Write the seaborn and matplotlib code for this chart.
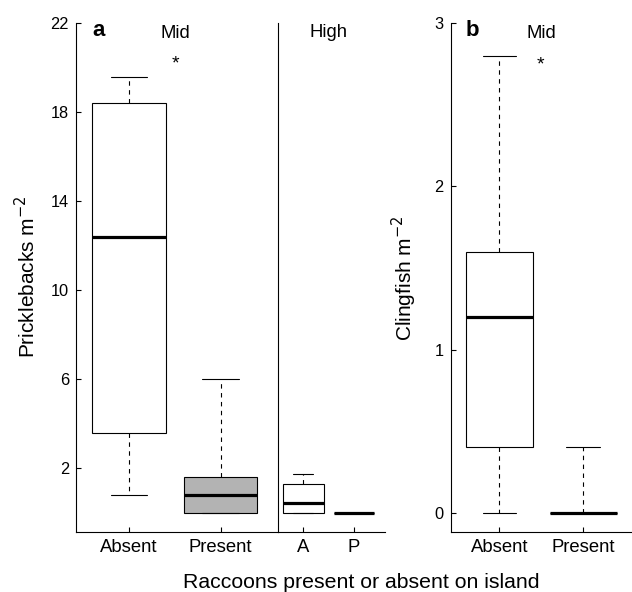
import numpy as np
import pandas as pd
import seaborn as sns
import matplotlib.pyplot as plt

# box summaries: min, lower quartile, median, upper quartile, max
mid_groups = ["Absent", "Present"]
high_groups = ["A", "P"]
prickle_mid_absent = [0.8, 3.6, 12.4, 18.4, 19.6]
prickle_mid_present = [0.0, 0.0, 0.8, 1.6, 6.0]
prickle_high_absent = [0.0, 0.0, 0.45, 1.3, 1.75]
prickle_high_present = [0.0, 0.0, 0.0, 0.0, 0.0]
cling_mid_absent = [0.0, 0.4, 1.2, 1.6, 2.8]
cling_mid_present = [0.0, 0.0, 0.0, 0.0, 0.4]
prickle_ticks = [2, 6, 10, 14, 18, 22]
cling_ticks = [0, 1, 2, 3]
box_colors = {"Absent": "white", "Present": "#b3b3b3", "A": "white", "P": "#b3b3b3"}


def frame(groups, values):
    return pd.DataFrame({"raccoons": np.repeat(groups, [len(v) for v in values]),
                         "density": np.concatenate(values)})


sns.set_style("ticks")
plt.rcParams["font.family"] = ["Liberation Sans", "DejaVu Sans"]
plt.rcParams["axes.linewidth"] = 0.8
for key in ("text.color", "axes.labelcolor", "axes.edgecolor", "xtick.color", "ytick.color"):
    plt.rcParams[key] = "black"

W, H = 632, 592
fig = plt.figure(figsize=(W / 100, H / 100), dpi=100)


def px_axes(x0, x1, y0, y1, **kw):
    return fig.add_axes([x0 / W, 1 - y1 / H, (x1 - x0) / W, (y1 - y0) / H], **kw)


ax_a1 = px_axes(76, 278.3, 3.8, 532.3)
ax_a2 = px_axes(278.3, 385, 3.8, 532.3, sharey=ax_a1)
ax_b = px_axes(450.7, 631, 3.7, 532.3)

box_kw = dict(x="raccoons", y="density", hue="raccoons", palette=box_colors, legend=False,
              saturation=1, width=0.8, whis=(0, 100), linecolor="black", linewidth=0.8,
              showfliers=False,
              medianprops=dict(linewidth=2.3, color="black"),
              whiskerprops=dict(linestyle=(0, (4, 4))))

sns.boxplot(data=frame(mid_groups, [prickle_mid_absent, prickle_mid_present]), ax=ax_a1, **box_kw)
sns.boxplot(data=frame(high_groups, [prickle_high_absent, prickle_high_present]), ax=ax_a2, **box_kw)
sns.boxplot(data=frame(mid_groups, [cling_mid_absent, cling_mid_present]), ax=ax_b, **box_kw)

ax_a1.set_ylim(-0.88, 22.88)
ax_a1.set_yticks(prickle_ticks)
ax_a1.set_xlim(-0.58, 1.63)
ax_a2.set_xlim(-0.49, 1.61)
ax_b.set_ylim(-0.12, 3.12)
ax_b.set_yticks(cling_ticks)
ax_b.set_xlim(-0.58, 1.57)

for ax in (ax_a1, ax_a2, ax_b):
    ax.set_xlabel("")
    ax.set_ylabel("")
    ax.spines["top"].set_visible(False)
    ax.spines["right"].set_visible(False)
    ax.tick_params(direction="in", length=3.6, width=0.8, color="black", labelcolor="black")
    ax.tick_params(axis="x", labelsize=13.3, pad=4.5)
    ax.tick_params(axis="y", labelsize=11.8, pad=5)

ax_a1.spines["left"].set_bounds(-0.88, 22)
ax_a2.spines["left"].set_bounds(-0.88, 22)
ax_a2.tick_params(axis="y", left=False, labelleft=False)
ax_b.spines["left"].set_bounds(-0.12, 3)


def ftext(x, y, s, **kw):
    fig.text(x / W, 1 - y / H, s, ha="center", va="center", color="black", **kw)


ftext(99, 30, "a", fontsize=16, fontweight="bold")
ftext(175.7, 33, "Mid", fontsize=13.3)
ftext(175, 64, "*", fontsize=14)
ftext(328.3, 32.3, "High", fontsize=13.3)
ftext(472.7, 31, "b", fontsize=16, fontweight="bold")
ftext(541.7, 33, "Mid", fontsize=13.3)
ftext(540.7, 65, "*", fontsize=14)

ftext(27, 277, "Pricklebacks m$^{-2}$", fontsize=15, rotation=90)
ftext(404, 278, "Clingfish m$^{-2}$", fontsize=15, rotation=90)
fig.text(361 / W, 1 - 588 / H, "Raccoons present or absent on island",
         ha="center", va="baseline", fontsize=15.3, color="black")

plt.savefig("out.png", dpi=100)
